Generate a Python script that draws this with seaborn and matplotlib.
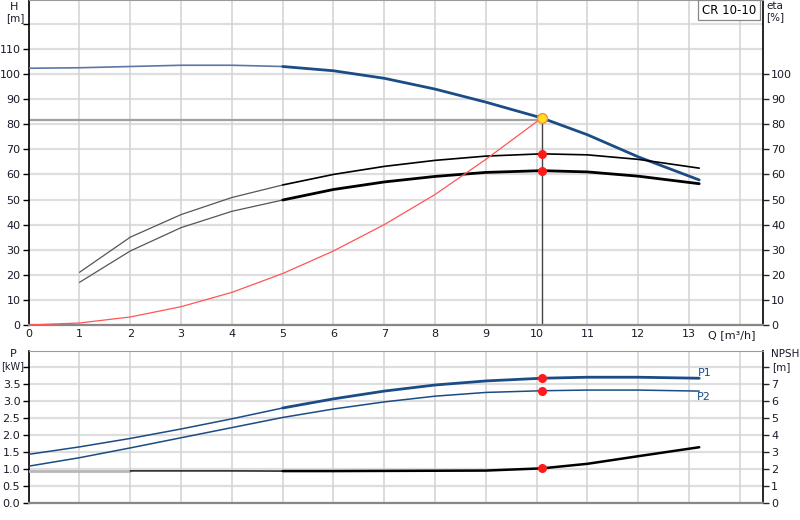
import numpy as np
import pandas as pd
import matplotlib
matplotlib.use("Agg")
import matplotlib.pyplot as plt
import seaborn as sns

# ---------------- data ----------------
q_pts = [0, 1, 2, 3, 4, 5, 6, 7, 8, 9, 10.1, 11, 12, 13.2]
head_m = [102.3, 102.5, 103.0, 103.5, 103.5, 103.0, 101.3, 98.3, 94.0, 88.8, 82.5, 75.8, 67.0, 57.8]

q_eta = [1, 2, 3, 4, 5, 6, 7, 8, 9, 10.1, 11, 12, 13.2]
eta_pump = [21.0, 35.0, 44.0, 50.8, 55.8, 60.0, 63.2, 65.6, 67.3, 68.2, 67.8, 66.0, 62.5]
eta_total = [17.0, 29.5, 38.8, 45.3, 49.8, 54.0, 57.0, 59.2, 60.8, 61.5, 61.0, 59.3, 56.3]

q_sys = [0, 1, 2, 3, 4, 5, 6, 7, 8, 9, 10.1]
h_sys = [0.0, 0.8, 3.2, 7.3, 13.0, 20.5, 29.5, 40.0, 52.0, 66.0, 82.5]

p1_kw = [1.43, 1.65, 1.90, 2.18, 2.48, 2.80, 3.07, 3.30, 3.48, 3.60, 3.68, 3.71, 3.71, 3.68]
p2_kw = [1.08, 1.33, 1.62, 1.92, 2.22, 2.52, 2.77, 2.98, 3.15, 3.26, 3.31, 3.33, 3.33, 3.30]
npsh_m = [1.88, 1.88, 1.88, 1.88, 1.88, 1.87, 1.87, 1.88, 1.89, 1.90, 2.03, 2.30, 2.75, 3.28]

duty_q = 10.1
duty_h = 82.5
duty_line_h = 81.5
duty_eta = [68.2, 61.5]
duty_p = [3.68, 3.31]
duty_npsh = 2.03

h_ticks = [0, 10, 20, 30, 40, 50, 60, 70, 80, 90, 100, 110]
eta_ticks = [0, 10, 20, 30, 40, 50, 60, 70, 80, 90, 100]
p_ticks = [0.0, 0.5, 1.0, 1.5, 2.0, 2.5, 3.0, 3.5]
npsh_ticks = [0, 1, 2, 3, 4, 5, 6, 7]
q_ticks = list(range(0, 14))
title_text = "CR 10-10"

# ---------------- style ----------------
sns.set_style("white")
plt.rcParams['font.family'] = ['DejaVu Sans']
plt.rcParams['font.size'] = 8

BLUE = "#1b4c86"
BLUE_L = "#5a78a6"
GRIDC = "#dedede"
TXT = "#1a1a2a"

df_h = pd.DataFrame({"Q": q_pts, "H": head_m, "P1": p1_kw, "P2": p2_kw, "NPSH": npsh_m})
df_eta = pd.DataFrame({"Q": q_eta, "eta": eta_pump, "eta_t": eta_total})
df_sys = pd.DataFrame({"Q": q_sys, "H": h_sys})

W, H = 800, 520
fig = plt.figure(figsize=(8, 5.2), dpi=100)
xl, xr = 28.7, 762.7
ax1 = fig.add_axes([xl / W, (H - 325) / H, (xr - xl) / W, 325 / H])
ax2 = fig.add_axes([xl / W, (H - 502.7) / H, (xr - xl) / W, (502.7 - 350.5) / H])

XMAX = 14.45

def style_axes(ax, ymax, yt_grid, yt_label, fmt):
    ax.set_xlim(0, XMAX)
    ax.set_ylim(0, ymax)
    ax.set_xticks(q_ticks + [14])
    ax.set_yticks(yt_grid)
    ax.set_yticklabels([fmt(v) if v in yt_label else "" for v in yt_grid])
    ax.grid(False)
    for v in yt_grid:
        ax.axhline(v, color=GRIDC, lw=1.6, zorder=0)
    for v in q_ticks + [14]:
        ax.axvline(v, color="#d2d2d2", lw=1.1, zorder=0)
    ax.spines['left'].set_color("black")
    ax.spines['left'].set_linewidth(1.2)
    ax.spines['right'].set_color("black")
    ax.spines['right'].set_linewidth(1.2)
    ax.spines['top'].set_color("#9a9a9a")
    ax.spines['bottom'].set_color("#888888")
    ax.spines['bottom'].set_linewidth(1.6)
    ax.tick_params(axis='y', direction='out', length=4, width=1, color="black",
                   labelsize=8, pad=2, labelcolor=TXT)
    ax.set_xlabel("")
    ax.set_ylabel("")

# ---------------- top axes ----------------
style_axes(ax1, 129.5, h_ticks + [120], h_ticks, lambda v: f"{v:d}")
ax1.set_xticklabels([str(v) for v in q_ticks] + [""])
ax1.tick_params(axis='x', length=0, labelsize=8, pad=3, labelcolor=TXT)
ax1.text(0.99, -0.032, "Q [m³/h]", transform=ax1.transAxes, ha="right", va="center",
         fontsize=8, color=TXT)

lo = df_h[df_h.Q <= 5]
hi = df_h[df_h.Q >= 5]
sns.lineplot(data=lo, x="Q", y="H", ax=ax1, color=BLUE_L, lw=1.2, zorder=3)
sns.lineplot(data=hi, x="Q", y="H", ax=ax1, color=BLUE, lw=2.0, zorder=3)

elo = df_eta[df_eta.Q <= 5]
ehi = df_eta[df_eta.Q >= 5]
sns.lineplot(data=elo, x="Q", y="eta", ax=ax1, color="#555555", lw=0.9, zorder=3)
sns.lineplot(data=ehi, x="Q", y="eta", ax=ax1, color="black", lw=1.2, zorder=3)
sns.lineplot(data=elo, x="Q", y="eta_t", ax=ax1, color="#555555", lw=0.9, zorder=3)
sns.lineplot(data=ehi, x="Q", y="eta_t", ax=ax1, color="black", lw=2.0, zorder=3)

sns.lineplot(data=df_sys, x="Q", y="H", ax=ax1, color="#ff5555", lw=0.9, zorder=3)

ax1.plot([0, duty_q], [duty_line_h, duty_line_h], color="#a0a0a0", lw=1.6, zorder=2)
ax1.plot([duty_q, duty_q], [0, duty_h], color="#444444", lw=1.0, zorder=2)
ax1.scatter([duty_q, duty_q], duty_eta, s=30, color="#ff1a1a", edgecolor="#ff1a1a", zorder=5)
ax1.scatter([duty_q], [duty_h], s=50, color="#ffe21a", edgecolor="#ff8a3a", lw=1.0, zorder=6)
ax1.set_xlabel("")
ax1.set_ylabel("")

ax1r = ax1.twinx()
ax1r.set_ylim(0, 129.5)
ax1r.set_yticks(eta_ticks)
ax1r.set_yticklabels([str(v) for v in eta_ticks])
ax1r.tick_params(axis='y', direction='out', length=4, width=1, labelsize=8, pad=2,
                 labelcolor=TXT)
for s in ax1r.spines.values():
    s.set_visible(False)

fig.text(14 / W, 1 - 7 / H, "H", ha="center", va="center", fontsize=8, color=TXT)
fig.text(15 / W, 1 - 18 / H, "[m]", ha="center", va="center", fontsize=7.5, color=TXT)
fig.text(775 / W, 1 - 6 / H, "eta", ha="center", va="center", fontsize=7.5, color=TXT)
fig.text(775 / W, 1 - 17 / H, "[%]", ha="center", va="center", fontsize=7.5, color=TXT)
ax1.text(0.991, 0.988, title_text, transform=ax1.transAxes, ha="right", va="top",
         fontsize=8.5, color="black", zorder=10,
         bbox=dict(boxstyle="square,pad=0.3", fc="white", ec="#888888", lw=0.9))

# ---------------- bottom axes ----------------
style_axes(ax2, 4.5, [0.0, 0.5, 1.0, 1.5, 2.0, 2.5, 3.0, 3.5, 4.0], p_ticks, lambda v: f"{v:.1f}")
ax2.set_xticklabels([])
ax2.tick_params(axis='x', length=0)

plo = df_h[df_h.Q <= 5]
phi = df_h[df_h.Q >= 5]
sns.lineplot(data=plo, x="Q", y="P1", ax=ax2, color=BLUE, lw=1.1, zorder=3)
sns.lineplot(data=phi, x="Q", y="P1", ax=ax2, color=BLUE, lw=2.0, zorder=3)
sns.lineplot(data=df_h, x="Q", y="P2", ax=ax2, color=BLUE, lw=1.1, zorder=3)
ax2.scatter([duty_q, duty_q], duty_p, s=30, color="#ff1a1a", zorder=5)
ax2.text(13.3, 3.70, "P1", ha="center", va="bottom", fontsize=8, color=BLUE)
ax2.text(13.3, 3.28, "P2", ha="center", va="top", fontsize=8, color=BLUE)
ax2.set_xlabel("")
ax2.set_ylabel("")

ax2r = ax2.twinx()
ax2r.set_ylim(0, 9)
dn = pd.DataFrame({"Q": q_pts, "NPSH": npsh_m})
sns.lineplot(data=dn[dn.Q <= 2], x="Q", y="NPSH", ax=ax2r, color="#b8b8b8", lw=2.0, zorder=3)
sns.lineplot(data=dn[(dn.Q >= 2) & (dn.Q <= 5)], x="Q", y="NPSH", ax=ax2r, color="black", lw=1.0, zorder=3)
sns.lineplot(data=dn[dn.Q >= 5], x="Q", y="NPSH", ax=ax2r, color="black", lw=1.8, zorder=3)
ax2r.scatter([duty_q], [duty_npsh], s=30, color="#ff1a1a", zorder=5)
ax2r.set_yticks(npsh_ticks + [8])
ax2r.set_yticklabels([str(v) for v in npsh_ticks] + [""])
ax2r.tick_params(axis='y', direction='out', length=4, width=1, labelsize=8, pad=2,
                 labelcolor=TXT)
ax2r.set_xlabel("")
ax2r.set_ylabel("")
for s in ax2r.spines.values():
    s.set_visible(False)

fig.text(13 / W, 1 - 354 / H, "P", ha="center", va="center", fontsize=8, color=TXT)
fig.text(13 / W, 1 - 366 / H, "[kW]", ha="center", va="center", fontsize=7, color=TXT)
fig.text(785 / W, 1 - 354 / H, "NPSH", ha="center", va="center", fontsize=7.5, color=TXT)
fig.text(781 / W, 1 - 367 / H, "[m]", ha="center", va="center", fontsize=7.5, color=TXT)

fig.savefig("out.png", dpi=100)
